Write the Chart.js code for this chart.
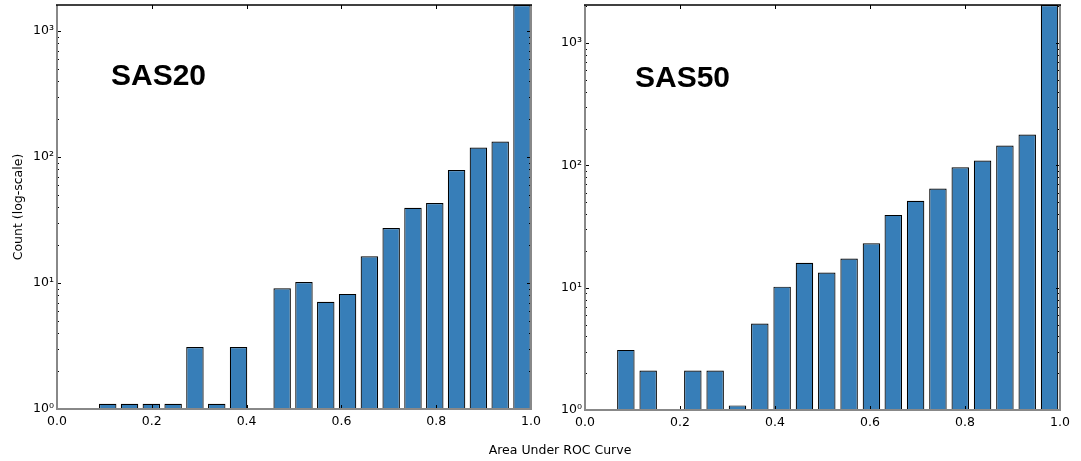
<!DOCTYPE html>
<html>
<head>
<meta charset="utf-8">
<script src="https://cdn.jsdelivr.net/npm/chart.js@4.4.1/dist/chart.umd.min.js"></script>
<style>
  body { margin: 0; background: #fff; }
  #wrap { position: relative; width: 1081px; height: 461px; overflow: hidden; }
  .panel { position: absolute; top: 0; height: 461px; }
  #xlabel {
    position: absolute; left: 460px; width: 200px; top: 442px;
    text-align: center; font: 12.5px "DejaVu Sans"; color: #000; line-height: 15px;
  }
</style>
</head>
<body>
<div id="wrap">
  <div class="panel" style="left:0;width:545px"><canvas id="sas20"></canvas></div>
  <div class="panel" style="left:540px;width:541px"><canvas id="sas50"></canvas></div>
  <div id="xlabel">Area Under ROC Curve</div>
</div>
<script>
// bin centres (AUC) and counts
const binsSAS20 = [0.107, 0.153, 0.199, 0.245, 0.291, 0.337, 0.383, 0.429, 0.475, 0.521,
                   0.567, 0.613, 0.659, 0.705, 0.751, 0.797, 0.843, 0.889, 0.935, 0.981];
const countsSAS20 = [1.1, 1.1, 1.1, 1.1, 3.1, 1.1, 3.1, null, 9.1, 10.2,
                     7.1, 8.2, 16.3, 27.3, 39.5, 43.2, 79, 119, 133, 1610];

const binsSAS50 = [0.086, 0.133, 0.180, 0.227, 0.274, 0.321, 0.368, 0.415, 0.462, 0.509,
                   0.556, 0.603, 0.649, 0.696, 0.743, 0.790, 0.837, 0.884, 0.931, 0.978];
const countsSAS50 = [3.1, 2.1, null, 2.1, 2.1, 1.09, 5.1, 10.2, 16, 13.3,
                     17.3, 23.1, 39.4, 51.3, 64.7, 96.7, 109.6, 145.5, 179, 2050];

const xTickValues = [0, 0.2, 0.4, 0.6, 0.8, 1.0];
const xTickLabels = ['0.0', '0.2', '0.4', '0.6', '0.8', '1.0'];
const yTickValues = [1, 10, 100, 1000];
const yTickLabels = ['10⁰', '10¹', '10²', '10³'];

const BAR_COLOR = '#377eb8';
const FONT = 'DejaVu Sans';

// matplotlib-like frame with inward ticks, plus the panel name
const framePlugin = {
  id: 'frame',
  afterDraw(chart, args, opts) {
    const { ctx, chartArea: a, scales: { x, y } } = chart;
    ctx.save();
    ctx.strokeStyle = '#000';
    ctx.lineWidth = 1;
    ctx.beginPath();
    xTickValues.forEach(v => {
      const px = Math.round(x.getPixelForValue(v)) + 0.5;
      ctx.moveTo(px, a.bottom); ctx.lineTo(px, a.bottom - 4);
      ctx.moveTo(px, a.top); ctx.lineTo(px, a.top + 4);
    });
    for (let k = 0; k <= 3; k++) {
      for (let m = 1; m <= 9; m++) {
        const v = m * Math.pow(10, k);
        if (v > y.max) continue;
        const py = Math.round(y.getPixelForValue(v)) + 0.5;
        const len = m === 1 ? 4 : 2;
        ctx.moveTo(a.left, py); ctx.lineTo(a.left + len, py);
        ctx.moveTo(a.right, py); ctx.lineTo(a.right - len, py);
      }
    }
    ctx.stroke();

    ctx.strokeStyle = '#888';
    ctx.lineWidth = 2;
    ctx.beginPath();
    ctx.moveTo(a.left, a.top); ctx.lineTo(a.left, a.bottom);
    ctx.lineTo(a.right, a.bottom); ctx.lineTo(a.right, a.top);
    ctx.stroke();
    ctx.strokeStyle = '#000';
    ctx.lineWidth = 1.5;
    ctx.beginPath();
    ctx.moveTo(a.left - 1, a.top); ctx.lineTo(a.right + 1, a.top);
    ctx.stroke();

    ctx.fillStyle = '#000';
    ctx.font = 'bold 30px "Liberation Sans"';
    ctx.textBaseline = 'alphabetic';
    ctx.fillText(opts.label, a.left + opts.dx, a.top + opts.dy);
    ctx.restore();
  }
};

function makeChart(id, bins, counts, yMax, cfg) {
  const ctx = document.getElementById(id).getContext('2d');
  return new Chart(ctx, {
    type: 'bar',
    data: {
      datasets: [{
        data: bins.map((b, i) => ({ x: b, y: counts[i] })),
        backgroundColor: BAR_COLOR,
        borderColor: '#000',
        borderWidth: 1.2,
        inflateAmount: 0,
        categoryPercentage: 1.0,
        barPercentage: 0.8
      }]
    },
    plugins: [framePlugin],
    options: {
      responsive: true,
      maintainAspectRatio: false,
      animation: false,
      layout: { padding: { top: 5, left: 0, right: cfg.padRight, bottom: 0 } },
      plugins: {
        legend: { display: false },
        tooltip: { enabled: false },
        frame: { label: cfg.label, dx: cfg.labelDx, dy: cfg.labelDy }
      },
      scales: {
        x: {
          type: 'linear',
          min: 0,
          max: 1,
          offset: false,
          grid: { display: false, drawTicks: false, offset: false },
          border: { display: false },
          afterBuildTicks: s => { s.ticks = xTickValues.map(v => ({ value: v })); },
          afterFit: s => { s.height = cfg.xHeight; s.paddingLeft = 0; s.paddingRight = 0; },
          ticks: {
            autoSkip: false,
            maxRotation: 0,
            padding: 5,
            color: '#000',
            font: { family: FONT, size: 12.5 },
            callback: (v, i) => xTickLabels[i]
          }
        },
        y: {
          type: 'logarithmic',
          min: 1,
          max: yMax,
          grid: { display: false, drawTicks: false },
          border: { display: false },
          afterBuildTicks: s => { s.ticks = yTickValues.map(v => ({ value: v })); },
          afterFit: s => { s.width = cfg.yWidth; s.paddingTop = 0; s.paddingBottom = 0; },
          ticks: {
            autoSkip: false,
            padding: 3,
            color: '#000',
            font: { family: FONT, size: 12.5 },
            callback: (v, i) => yTickLabels[i]
          },
          title: {
            display: !!cfg.yTitle,
            text: cfg.yTitle || '',
            color: '#000',
            padding: { top: 11, bottom: 0 },
            font: { family: FONT, size: 12.5 }
          }
        }
      }
    }
  });
}

makeChart('sas20', binsSAS20, countsSAS20, 1610, {
  label: 'SAS20', labelDx: 54, labelDy: 80,
  yWidth: 57, xHeight: 52, padRight: 14, yTitle: 'Count (log-scale)'
});
makeChart('sas50', binsSAS50, countsSAS50, 2050, {
  label: 'SAS50', labelDx: 50, labelDy: 82,
  yWidth: 45, xHeight: 51, padRight: 21
});
</script>
</body>
</html>
